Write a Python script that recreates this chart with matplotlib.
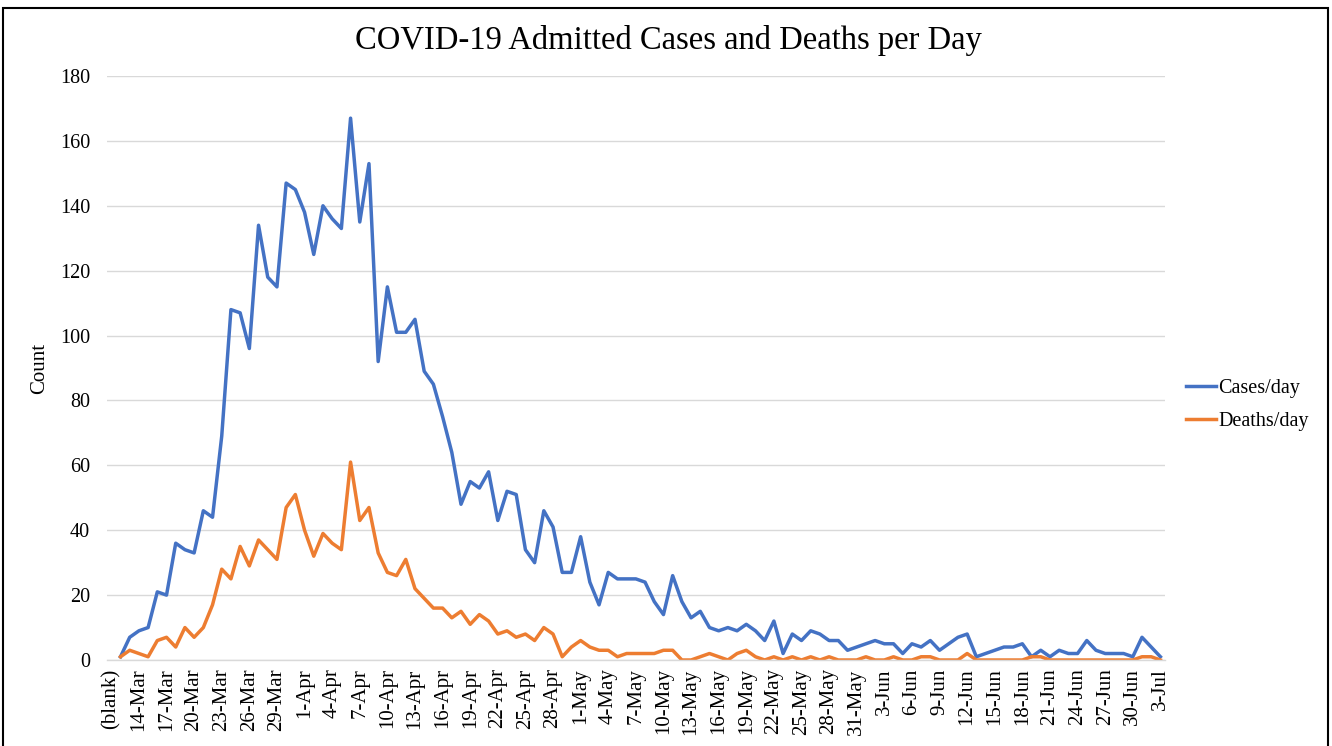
import numpy as np
import matplotlib
matplotlib.use("Agg")
import matplotlib.pyplot as plt
from matplotlib.patches import Rectangle
from datetime import date, timedelta

# categories: pivot "(blank)" row, then one row per day 12-Mar .. 3-Jul
start = date(2020, 3, 12)
days = [start + timedelta(days=i) for i in range(114)]
categories = ["(blank)"] + [f"{d.day}-{d.strftime('%b')}" for d in days]

# values per day (the "(blank)" row has no value)
cases_per_day = [
    1, 7, 9, 10, 21, 20, 36, 34, 33, 46, 44, 69, 108, 107, 96, 134, 118, 115, 147, 145,
    138, 125, 140, 136, 133, 167, 135, 153, 92, 115, 101, 101, 105, 89, 85, 75, 64, 48, 55, 53,
    58, 43, 52, 51, 34, 30, 46, 41, 27, 27, 38, 24, 17, 27, 25, 25, 25, 24, 18, 14,
    26, 18, 13, 15, 10, 9, 10, 9, 11, 9, 6, 12, 2, 8, 6, 9, 8, 6, 6, 3,
    4, 5, 6, 5, 5, 2, 5, 4, 6, 3, 5, 7, 8, 1, 2, 3, 4, 4, 5, 1,
    3, 1, 3, 2, 2, 6, 3, 2, 2, 2, 1, 7, 4, 1,
]
deaths_per_day = [
    1, 3, 2, 1, 6, 7, 4, 10, 7, 10, 17, 28, 25, 35, 29, 37, 34, 31, 47, 51,
    40, 32, 39, 36, 34, 61, 43, 47, 33, 27, 26, 31, 22, 19, 16, 16, 13, 15, 11, 14,
    12, 8, 9, 7, 8, 6, 10, 8, 1, 4, 6, 4, 3, 3, 1, 2, 2, 2, 2, 3,
    3, 0, 0, 1, 2, 1, 0, 2, 3, 1, 0, 1, 0, 1, 0, 1, 0, 1, 0, 0,
    0, 1, 0, 0, 1, 0, 0, 1, 1, 0, 0, 0, 2, 0, 0, 0, 0, 0, 0, 1,
    1, 0, 0, 0, 0, 0, 0, 0, 0, 0, 0, 1, 1, 0,
]

cases = np.array([np.nan] + cases_per_day, dtype=float)
deaths = np.array([np.nan] + deaths_per_day, dtype=float)
x = np.arange(len(categories))

plt.rcParams['font.family'] = ['Liberation Serif', 'DejaVu Serif']

W, H = 1332, 746
fig = plt.figure(figsize=(W / 100, H / 100), dpi=100)
fig.patch.set_facecolor("white")

# plot area in pixels
left, right, top, bottom = 106.7, 1165, 76, 660
ax = fig.add_axes([left / W, 1 - bottom / H, (right - left) / W, (bottom - top) / H])

ax.plot(x, cases, color="#4472C4", lw=2.5, label="Cases/day", solid_joinstyle="round")
ax.plot(x, deaths, color="#ED7D31", lw=2.5, label="Deaths/day", solid_joinstyle="round")

ax.set_xlim(-0.5, len(categories) - 0.5)
ax.set_ylim(0, 180)
ax.set_yticks(np.arange(0, 181, 20))
ax.set_xticks(x[::3])
ax.set_xticklabels(categories[::3], rotation=90, fontsize=15)
ax.tick_params(axis="y", length=0, pad=12, labelsize=14.5)
ax.tick_params(axis="x", length=0, pad=6)
ax.grid(axis="y", color="#d9d9d9", lw=1)
ax.set_axisbelow(True)
for s in ["top", "right", "left"]:
    ax.spines[s].set_visible(False)
ax.spines["bottom"].set_color("#d9d9d9")
ax.spines["bottom"].set_linewidth(1)

fig.text(40 / W, 1 - 368 / H, "Count", rotation=90, ha="center", va="center", fontsize=15)
fig.text(668.5 / W, 1 - 40 / H, "COVID-19 Admitted Cases and Deaths per Day",
         ha="center", va="center", fontsize=23.5)

fig.legend(loc="center left", bbox_to_anchor=(1168 / W, 1 - 405 / H), frameon=False,
           fontsize=14.5, handlelength=1.5, handletextpad=0.1, labelspacing=0.65)

# chart border
fig.patches.append(Rectangle((3 / W, -0.1), (1328 - 3) / W, 1.1 - 8 / H,
                             transform=fig.transFigure, fill=False, edgecolor="black", lw=1.5))

fig.savefig("out.png", dpi=100)
